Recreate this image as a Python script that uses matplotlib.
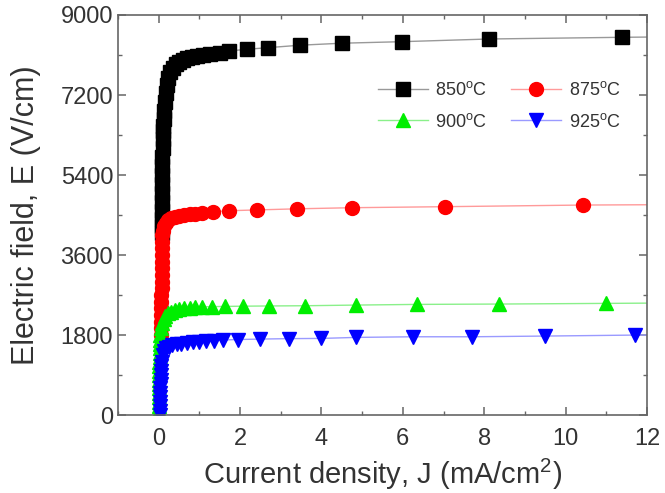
import matplotlib
matplotlib.use("Agg")
import matplotlib.pyplot as plt
from matplotlib.ticker import MultipleLocator

plt.rcParams['font.family'] = ['Liberation Sans', 'DejaVu Sans']
plt.rcParams['mathtext.fontset'] = 'custom'
plt.rcParams['mathtext.rm'] = 'Liberation Sans'

# values (J in mA/cm2, E in V/cm)
j_850 = [0.07, 0.07, 0.07, 0.08, 0.08, 0.08, 0.08, 0.09,
         0.09, 0.09, 0.10, 0.10, 0.11, 0.11, 0.12, 0.13, 0.15, 0.17, 0.20, 0.24,
         0.29, 0.35, 0.42, 0.50, 0.60, 0.70, 0.82, 0.95, 1.08, 1.26, 1.50, 1.73,
         2.16, 2.69, 3.47, 4.50, 5.99, 8.12, 11.38, 14.0]
e_850 = [4100, 4250, 4400, 4600, 4800, 5000, 5200, 5400,
         5600, 5800, 6000, 6200, 6400, 6500, 6650, 6850, 7050, 7250, 7420, 7580,
         7710, 7810, 7890, 7950, 7995, 8030, 8060, 8085, 8100, 8120, 8150, 8190,
         8228, 8265, 8320, 8365, 8400, 8460, 8498, 8520]

j_875 = [0.05, 0.05, 0.05, 0.06, 0.06, 0.06, 0.06, 0.07, 0.07, 0.07, 0.07, 0.08,
         0.08, 0.08, 0.09, 0.09, 0.11, 0.14, 0.18, 0.22, 0.30, 0.40, 0.50, 0.62,
         0.77, 0.90, 1.06, 1.34, 1.73, 2.41, 3.40, 4.74, 7.03, 10.43, 14.0]
e_875 = [1800, 1950, 2100, 2250, 2400, 2550, 2700, 2850, 3000, 3150, 3300, 3450,
         3600, 3750, 3900, 4050, 4150, 4250, 4330, 4390, 4430, 4460, 4480, 4500,
         4515, 4530, 4540, 4575, 4597, 4615, 4640, 4665, 4688, 4725, 4740]

j_900 = [0.00, 0.00, 0.00, 0.01, 0.01, 0.01, 0.01, 0.01, 0.02, 0.02, 0.02, 0.02,
         0.02, 0.03, 0.03, 0.03, 0.03, 0.04, 0.04, 0.05, 0.08, 0.12, 0.16, 0.22,
         0.30, 0.40, 0.50, 0.62, 0.76, 0.90, 1.06, 1.30, 1.63, 2.07, 2.72, 3.59,
         4.84, 6.35, 8.36, 11.0, 14.0]
e_900 = [0, 100, 200, 300, 400, 500, 600, 700, 800, 900, 1000, 1100,
         1200, 1300, 1400, 1500, 1600, 1700, 1800, 1950, 2080, 2170, 2240, 2290,
         2330, 2360, 2385, 2400, 2415, 2425, 2437, 2440, 2445, 2450, 2455, 2460,
         2475, 2490, 2498, 2513, 2530]

j_925 = [0.03, 0.03, 0.03, 0.04, 0.04, 0.04, 0.04, 0.05, 0.05, 0.05, 0.06, 0.06,
         0.07, 0.10, 0.14, 0.19, 0.25, 0.33, 0.44, 0.56, 0.70, 0.85, 1.00, 1.17,
         1.35, 1.58, 1.94, 2.49, 3.20, 4.00, 4.86, 6.26, 7.69, 9.50, 11.70, 14.0]
e_925 = [0, 100, 200, 300, 400, 500, 600, 700, 800, 900, 1000, 1100,
         1200, 1350, 1440, 1500, 1540, 1570, 1590, 1610, 1625, 1640, 1650, 1660,
         1675, 1690, 1700, 1710, 1720, 1725, 1748, 1762, 1762, 1778, 1800, 1810]

labels = ['850$^\\mathrm{o}$C', '875$^\\mathrm{o}$C', '900$^\\mathrm{o}$C', '925$^\\mathrm{o}$C']

fig = plt.figure(figsize=(6.65, 4.93), dpi=100)
ax = fig.add_axes([0.1774, 0.158, 0.7956, 0.8116])

h1, = ax.plot(j_850, e_850, '-s', color='#999999', mfc='black', mec='black', ms=9.5, lw=1, label=labels[0])
h2, = ax.plot(j_875, e_875, '-o', color='#ff9a9a', mfc='red', mec='red', ms=10, lw=1, label=labels[1])
h3, = ax.plot(j_900, e_900, '-^', color='#8af08a', mfc='#00ee00', mec='#00ee00', ms=10.5, lw=1, label=labels[2])
h4, = ax.plot(j_925, e_925, '-v', color='#9a9aff', mfc='blue', mec='blue', ms=10.5, lw=1, label=labels[3])

ax.set_xlim(-1, 12)
ax.set_ylim(0, 9000)
ax.set_xticks([0, 2, 4, 6, 8, 10, 12])
ax.set_yticks([0, 1800, 3600, 5400, 7200, 9000])
ax.xaxis.set_minor_locator(MultipleLocator(1))
ax.yaxis.set_minor_locator(MultipleLocator(900))

txt = '#333333'
for s in ax.spines.values():
    s.set_color('#666666')
    s.set_linewidth(1.2)
ax.tick_params(which='both', direction='in', top=True, right=True, colors='#666666',
               labelcolor=txt, labelsize=17)
ax.tick_params(which='major', length=6, width=1.1)
ax.tick_params(which='minor', length=3, width=1.0)
ax.tick_params(axis='x', pad=9)

ax.set_xlabel('Current density, J (mA/cm$^2$)', fontsize=21, color=txt, labelpad=5)
ax.set_ylabel('Electric field, E (V/cm)', fontsize=22, color=txt, labelpad=14)

# row-wise order: 850, 875 on top; 900, 925 below
ax.legend([h1, h3, h2, h4], [labels[0], labels[2], labels[1], labels[3]],
          ncol=2, loc='upper left', bbox_to_anchor=(0.46, 0.875), frameon=False,
          fontsize=13, handlelength=2.8, handletextpad=0.4, columnspacing=1.3,
          labelspacing=0.75, labelcolor=txt)

fig.savefig('out.png', dpi=100)
